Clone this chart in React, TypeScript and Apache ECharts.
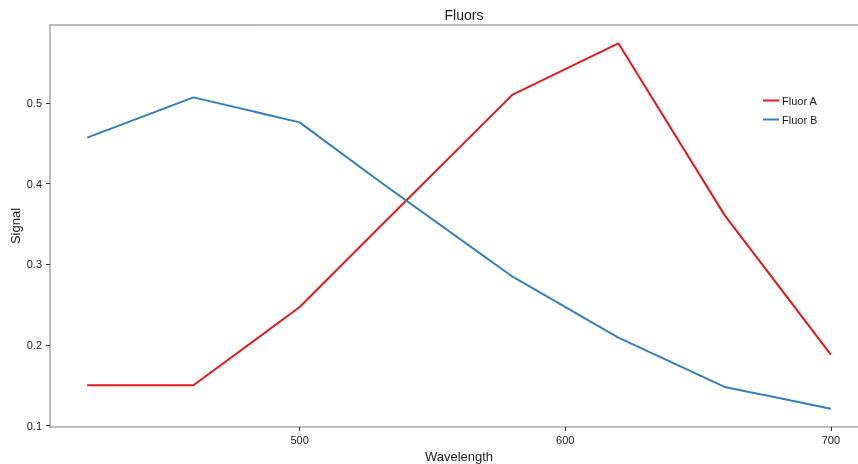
import React, { useEffect, useRef } from "react";
import * as echarts from "echarts";

const wavelengths = [420, 460, 500, 530, 580, 620, 660, 700];
const fluorA = [0.15, 0.15, 0.247, 0.346, 0.51, 0.574, 0.361, 0.188];
const fluorB = [0.457, 0.507, 0.476, 0.403, 0.285, 0.209, 0.148, 0.121];
const xTicks = [500, 600, 700];
const yTicks = [0.1, 0.2, 0.3, 0.4, 0.5];

const FONT = "Liberation Sans, Arial, sans-serif";
const X_MIN = 406;
const X_MAX = 714;

export default function App() {
  const ref = useRef<HTMLDivElement>(null);
  useEffect(() => {
    if (!ref.current) return;
    const chart = echarts.init(ref.current, null, { renderer: "svg" });
    const axisCommon = {
      axisLine: { show: true, lineStyle: { color: "#a8a8a8", width: 1.5 } },
      axisTick: { show: true, length: 4, lineStyle: { color: "#333", width: 1 } },
      splitLine: { show: false },
    };
    chart.setOption({
      animation: false,
      textStyle: { fontFamily: FONT },
      title: {
        text: "Fluors",
        left: 459,
        top: 3,
        textAlign: "center",
        textStyle: { fontFamily: FONT, fontSize: 14, fontWeight: "normal", color: "#1a1a1a" },
      },
      grid: {
        left: 50,
        top: 25,
        bottom: 37,
        right: -10,
        outerBoundsMode: "none",
        containLabel: false,
        show: false,
      },
      legend: {
        orient: "vertical",
        left: 758,
        top: 90,
        itemWidth: 16,
        itemHeight: 2,
        itemGap: 8,
        icon: "rect",
        textStyle: { fontFamily: FONT, fontSize: 11, color: "#1a1a1a", padding: [0, 0, 0, -2] },
        data: ["Fluor A", "Fluor B"],
      },
      xAxis: [
        {
          type: "value",
          min: X_MIN,
          max: X_MAX,
          name: "Wavelength",
          nameLocation: "middle",
          nameGap: 22,
          nameTextStyle: { fontFamily: FONT, fontSize: 13, color: "#1a1a1a" },
          ...axisCommon,
          axisTick: { ...axisCommon.axisTick, customValues: xTicks },
          axisLabel: {
            customValues: xTicks,
            fontFamily: FONT,
            fontSize: 11,
            color: "#222",
            margin: 7,
          },
        },
        {
          type: "value",
          position: "top",
          min: X_MIN,
          max: X_MAX,
          axisLine: { show: true, lineStyle: { color: "#a8a8a8", width: 1.5 } },
          axisTick: { show: false },
          axisLabel: { show: false },
          splitLine: { show: false },
        },
      ],
      yAxis: {
        type: "value",
        min: 0.0983,
        max: 0.5967,
        name: "Signal",
        nameLocation: "middle",
        nameGap: 28,
        nameMoveOverlap: false,
        nameTextStyle: { fontFamily: FONT, fontSize: 13, color: "#1a1a1a" },
        ...axisCommon,
        axisTick: { ...axisCommon.axisTick, customValues: yTicks },
        axisLabel: {
          customValues: yTicks,
          fontFamily: FONT,
          fontSize: 11,
          color: "#222",
          margin: 8,
          formatter: (v: number) => v.toFixed(1),
        },
      },
      series: [
        {
          name: "Fluor A",
          type: "line",
          data: wavelengths.map((w, i) => [w, fluorA[i]]),
          showSymbol: false,
          color: "#E41A1C",
          lineStyle: { width: 2, color: "#E41A1C" },
        },
        {
          name: "Fluor B",
          type: "line",
          data: wavelengths.map((w, i) => [w, fluorB[i]]),
          showSymbol: false,
          color: "#377EB8",
          lineStyle: { width: 2, color: "#377EB8" },
        },
      ],
    });
    return () => chart.dispose();
  }, []);
  return (
    <div
      ref={ref}
      style={{ position: "fixed", left: 0, top: 0, width: 858, height: 464 }}
    />
  );
}
